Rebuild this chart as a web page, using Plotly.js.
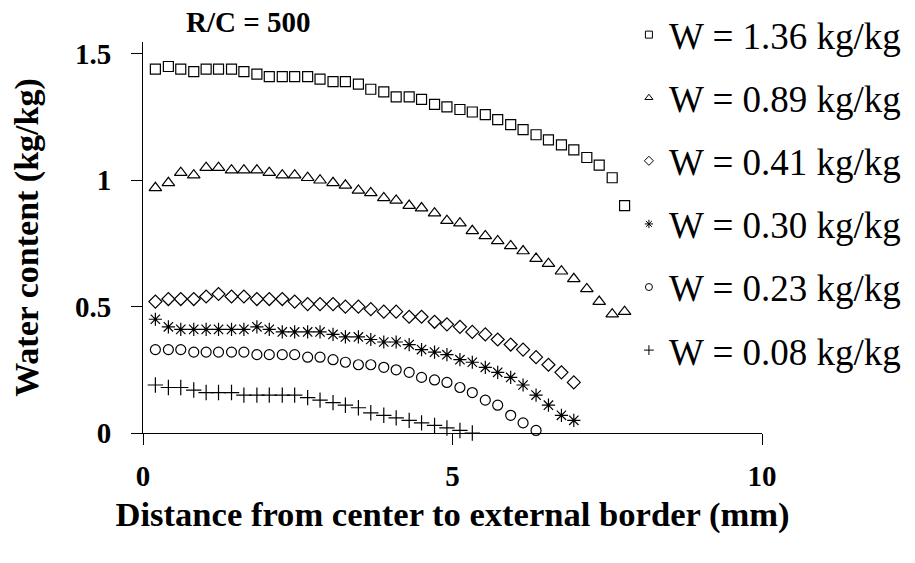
<!DOCTYPE html>
<html>
<head>
<meta charset="utf-8">
<script src="https://cdn.plot.ly/plotly-3.0.1.min.js"></script>
<style>html,body{margin:0;padding:0;background:#fff;}#chart{width:915px;height:563px;}</style>
</head>
<body>
<div id="chart"></div>
<script>
// Distance from center (mm), common grid for all series
const distance = [0.20,0.41,0.61,0.82,1.02,1.22,1.43,1.63,1.84,2.04,2.25,2.45,2.66,2.86,3.07,3.27,3.48,3.68,3.89,4.09,4.30,4.50,4.71,4.91,5.12,5.32,5.53,5.73,5.94,6.14,6.35,6.55,6.76,6.96,7.17,7.37,7.58,7.78];

const seriesNames = ["W = 1.36 kg/kg","W = 0.89 kg/kg","W = 0.41 kg/kg","W = 0.30 kg/kg","W = 0.23 kg/kg","W = 0.08 kg/kg"];

const w136 = [1.44,1.45,1.44,1.43,1.44,1.44,1.44,1.43,1.42,1.41,1.41,1.41,1.41,1.40,1.39,1.39,1.38,1.36,1.35,1.33,1.33,1.32,1.30,1.29,1.28,1.27,1.26,1.24,1.22,1.20,1.18,1.16,1.14,1.12,1.09,1.06,1.01,0.90];
const w089 = [0.97,0.99,1.03,1.02,1.05,1.05,1.04,1.04,1.04,1.03,1.02,1.02,1.01,1.00,0.99,0.98,0.96,0.95,0.93,0.92,0.90,0.89,0.87,0.84,0.83,0.80,0.78,0.76,0.74,0.72,0.69,0.67,0.64,0.61,0.57,0.52,0.47,0.48];
const w041 = [0.52,0.53,0.53,0.53,0.54,0.55,0.54,0.54,0.53,0.53,0.53,0.52,0.51,0.51,0.51,0.50,0.50,0.49,0.48,0.48,0.46,0.46,0.44,0.43,0.42,0.40,0.39,0.37,0.35,0.33,0.30,0.27,0.24,0.20];
const w030 = [0.45,0.42,0.41,0.41,0.41,0.41,0.41,0.41,0.42,0.41,0.40,0.40,0.40,0.40,0.39,0.38,0.38,0.37,0.36,0.36,0.35,0.33,0.32,0.31,0.29,0.28,0.26,0.24,0.22,0.19,0.15,0.11,0.07,0.05];
const w023 = [0.33,0.33,0.33,0.32,0.32,0.32,0.32,0.32,0.31,0.31,0.31,0.31,0.30,0.30,0.29,0.28,0.27,0.27,0.26,0.25,0.24,0.22,0.21,0.20,0.18,0.16,0.13,0.11,0.07,0.04,0.01];
const w008 = [0.19,0.18,0.18,0.17,0.16,0.16,0.16,0.15,0.15,0.15,0.15,0.15,0.14,0.13,0.12,0.11,0.10,0.08,0.07,0.06,0.05,0.04,0.03,0.02,0.01,0.00];

const xTickVals = [0,5,10];
const xTickText = ["0","5","10"];
const yTickVals = [0,0.5,1,1.5];
const yTickText = ["0","0.5","1","1.5"];

const FONT = "Liberation Serif, Times New Roman, serif";
const allValues = [w136,w089,w041,w030,w023,w008];
const symbols = ["square-open","triangle-up-open","diamond-open","asterisk-open","circle-open","cross-thin-open"];
const sizes = [10,11,10,11,10,11];
const legendSizes = [7,7,7,7,7,7];

// data traces (not shown in legend)
const traces = allValues.map((vals,i)=>({
  type:"scatter", mode:"markers",
  x: distance.slice(0, vals.length), y: vals,
  name: seriesNames[i], showlegend:false,
  cliponaxis:false,
  marker:{symbol:symbols[i], size:sizes[i], color:"#000", line:{color:"#000", width:1.2}}
}));
// legend entries with the small symbols used in the reference key
seriesNames.forEach((nm,i)=>{
  traces.push({type:"scatter", mode:"markers", x:[null], y:[null], name:nm, legendgroup:"g"+i, showlegend:true,
    marker:{symbol:symbols[i], size:legendSizes[i], color:"#000", line:{color:"#000", width:1}}});
});

const layout = {
  width:915, height:563,
  paper_bgcolor:"#fff", plot_bgcolor:"#fff",
  margin:{l:143, r:153, t:42, b:130, autoexpand:false},
  font:{family:FONT, color:"#000"},
  showlegend:true,
  legend:{x:0.785, xanchor:"left", y:1.097, yanchor:"top", traceorder:"grouped", tracegroupgap:12, maxheight:560,
          font:{family:FONT, size:37, color:"#000"}, bgcolor:"rgba(0,0,0,0)"},
  xaxis:{range:[0,10], tickvals:xTickVals, ticktext:xTickText, ticks:"outside", ticklen:11, tickwidth:1, tickcolor:"#000",
         showline:true, linecolor:"#000", linewidth:1, showgrid:false, zeroline:false, ticklabelstandoff:6,
         tickfont:{family:FONT, size:29, color:"#000", weight:"bold"},
         title:{text:"<b>Distance from center to external border (mm)</b>", font:{family:FONT, size:34.6, color:"#000"}, standoff:10}},
  yaxis:{range:[0,1.547], tickvals:yTickVals, ticktext:yTickText, ticks:"outside", ticklen:11, tickwidth:1, tickcolor:"#000",
         showline:true, linecolor:"#000", linewidth:1, showgrid:false, zeroline:false, ticklabelstandoff:14,
         tickfont:{family:FONT, size:29, color:"#000", weight:"bold"},
         title:{text:"<b>Water content (kg/kg)</b>", font:{family:FONT, size:34, color:"#000"}, standoff:26}},
  annotations:[{text:"<b>R/C = 500</b>", xref:"paper", yref:"paper", x:0.17, y:1.05, xanchor:"center", yanchor:"middle",
                showarrow:false, font:{family:FONT, size:29, color:"#000"}}]
};

Plotly.newPlot("chart", traces, layout, {displayModeBar:false, staticPlot:true});
</script>
</body>
</html>
